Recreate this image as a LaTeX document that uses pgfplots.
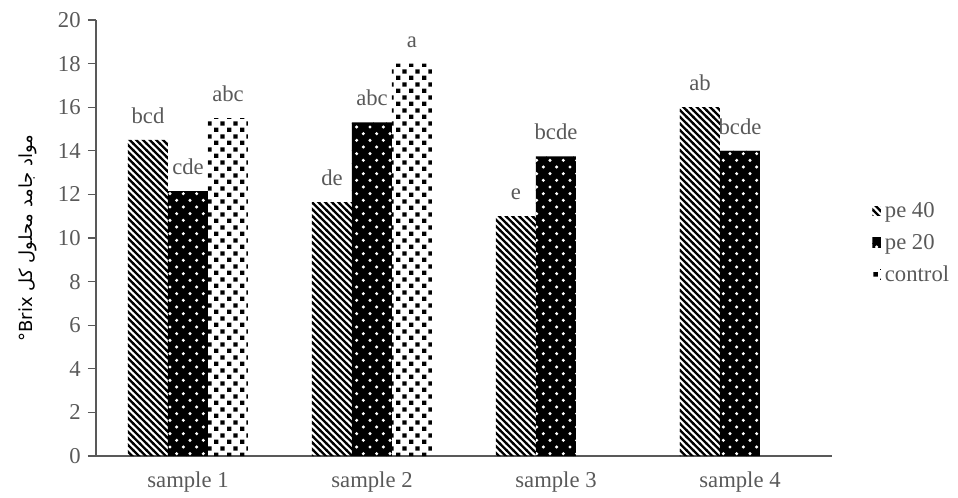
\documentclass[border=0pt]{standalone}
\usepackage{fontspec}
\setmainfont{Liberation Serif}
\newfontfamily\arabicfont[Script=Arabic]{DejaVu Sans}
\TeXXeTstate=1
\usepackage{pgfplots}
\pgfplotsset{compat=1.18}
\usetikzlibrary{patterns}
\definecolor{txtgray}{HTML}{595959}
\definecolor{axgray}{HTML}{595959}

% pe 40: diagonal lines (north west)
\pgfdeclarepatternformonly{nwlines}{\pgfqpoint{-2pt}{-2pt}}{\pgfqpoint{7pt}{7pt}}{\pgfqpoint{5pt}{5pt}}{
  \pgfsetlinewidth{1.7pt}
  \pgfpathmoveto{\pgfqpoint{-0.5pt}{5.5pt}}
  \pgfpathlineto{\pgfqpoint{5.5pt}{-0.5pt}}
  \pgfusepath{stroke}
}
% pe 20: black with white dots
\pgfdeclarepatterninherentlycolored{whitedots}{\pgfqpoint{-0.3pt}{-0.3pt}}{\pgfqpoint{10.3pt}{10.3pt}}{\pgfqpoint{10pt}{10pt}}{
  \pgfsetfillcolor{black}
  \pgfpathrectangle{\pgfqpoint{-0.3pt}{-0.3pt}}{\pgfqpoint{10.6pt}{10.6pt}}
  \pgfusepath{fill}
  \pgfsetfillcolor{white}
  \pgfpathcircle{\pgfqpoint{2.5pt}{2.5pt}}{1.3pt}
  \pgfpathcircle{\pgfqpoint{7.5pt}{7.5pt}}{1.3pt}
  \pgfusepath{fill}
}
% control: white with black squares
\pgfdeclarepatternformonly{blksquares}{\pgfqpoint{0pt}{0pt}}{\pgfqpoint{10pt}{10pt}}{\pgfqpoint{10pt}{10pt}}{
  \pgfpathrectangle{\pgfqpoint{0.8pt}{0.8pt}}{\pgfqpoint{3.4pt}{3.4pt}}
  \pgfpathrectangle{\pgfqpoint{5.8pt}{5.8pt}}{\pgfqpoint{3.4pt}{3.4pt}}
  \pgfusepath{fill}
}

\begin{document}
\begin{tikzpicture}
\begin{axis}[
  scale only axis,
  width=552pt, height=327pt,
  ybar=0pt, bar width=30pt,
  xmin=-0.5, xmax=3.5,
  ymin=0, ymax=20,
  ytick={0,2,...,20},
  xtick={0,1,2,3},
  xticklabels={sample 1,sample 2,sample 3,sample 4},
  axis lines=left,
  axis line style={draw=axgray, line width=0.9pt, -},
  x tick style={draw=none},
  y tick style={draw=axgray, line width=0.9pt},
  tick align=outside,
  major tick length=6pt,
  ticklabel style={font=\fontsize{17}{20}\selectfont, text=txtgray},
  /pgf/number format/assume math mode=true,
  xticklabel style={yshift=-2pt},
  yticklabel style={xshift=-2pt},
  ylabel={{\arabicfont °Brix \beginR مواد جامد محلول کل\endR}},
  every axis y label/.style={at={(axis description cs:-0.093,0.5)}, rotate=90, anchor=center, font=\fontsize{13.5}{16}\selectfont, text=black},
  nodes near coords,
  point meta=explicit symbolic,
  every node near coord/.append style={anchor=south, inner sep=0pt, yshift=12pt, font=\fontsize{17}{20}\selectfont, text=txtgray},
  legend style={draw=none, fill=none, at={(axis description cs:1,0.489)}, xshift=30pt, anchor=west, inner sep=0pt, row sep=9pt, font=\fontsize{17}{20}\selectfont, text=txtgray, nodes={inner sep=1pt}},
  legend cell align=left,
  legend image code/.code={\path[#1, draw=none] (0pt,-3.5pt) rectangle (6.5pt,3.5pt);},
]
\addplot[draw=none, pattern=nwlines, pattern color=black] coordinates {
  (0,14.5) [bcd] (1,11.65) [de] (2,11) [e] (3,16) [ab]};
\addplot[draw=none, pattern=whitedots] coordinates {
  (0,12.15) [cde] (1,15.3) [abc] (2,13.75) [bcde] (3,14) [bcde]};
\addplot[draw=none, pattern=blksquares, pattern color=black] coordinates {
  (0,15.5) [abc] (1,18) [a]};
\legend{\hspace{2pt}pe 40, \hspace{2pt}pe 20, \hspace{2pt}control}
\coordinate (bl) at (rel axis cs:0,0);
\coordinate (tl) at (rel axis cs:0,1);
\end{axis}
\pgfresetboundingbox
\path[use as bounding box] ([xshift=-72pt,yshift=-30.75pt]bl) rectangle ([xshift=646.5pt,yshift=15pt]tl);
\end{tikzpicture}
\end{document}
